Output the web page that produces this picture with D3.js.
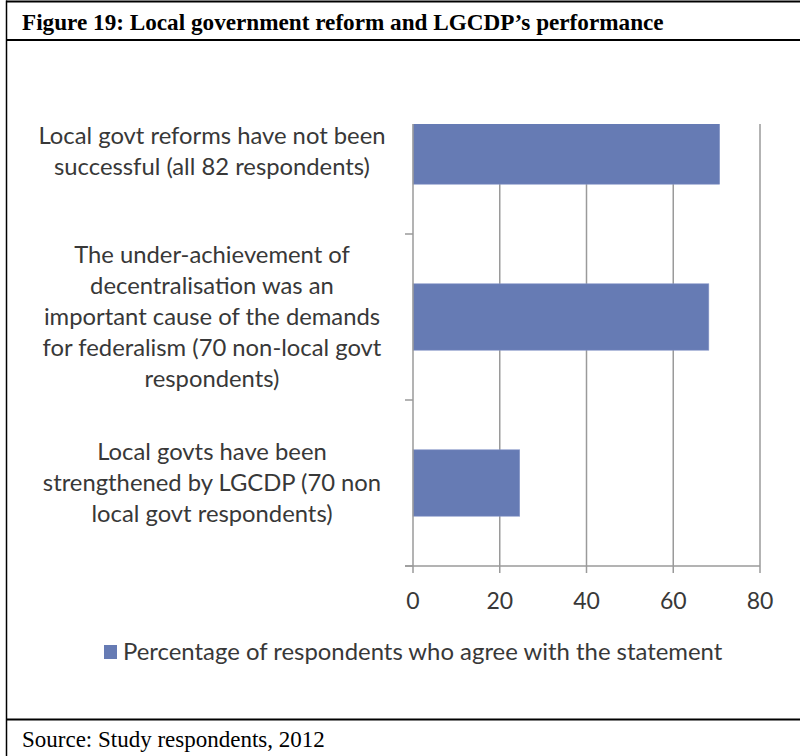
<!DOCTYPE html>
<html>
<head>
<meta charset="utf-8">
<script src="https://cdn.jsdelivr.net/npm/d3@7"></script>
<style>
  html, body { margin: 0; padding: 0; background: #fff; }
  svg { display: block; }
</style>
</head>
<body>
<svg id="chart" width="800" height="756"></svg>
<script>
const title = "Figure 19: Local government reform and LGCDP\u2019s performance";
const source = "Source: Study respondents, 2012";
const categories = [
  ["Local govt reforms  have not been", "successful (all 82 respondents)"],
  ["The under-achievement of", "decentralisation was an", "important cause of the demands", "for federalism  (70 non-local govt", "respondents)"],
  ["Local govts have been", "strengthened  by LGCDP (70 non", "local govt respondents)"]
];
const values = [70.7, 68.2, 24.6];
const xTicks = [0, 20, 40, 60, 80];
const seriesName = "Percentage of respondents who agree with the statement";

const svg = d3.select("#chart");
const barColor = "#667bb4";
const gridColor = "#9a9a9a";
const textColor = "#383838";
const labelFont = "Lato, 'Open Sans', sans-serif";

// Frame
svg.append("line").attr("x1", 6).attr("x2", 800).attr("y1", 1.5).attr("y2", 1.5).attr("stroke", "#000").attr("stroke-width", 2);
svg.append("line").attr("x1", 6.5).attr("x2", 6.5).attr("y1", 0.5).attr("y2", 756).attr("stroke", "#000").attr("stroke-width", 1.5);
svg.append("line").attr("x1", 6).attr("x2", 800).attr("y1", 40).attr("y2", 40).attr("stroke", "#000").attr("stroke-width", 2);
svg.append("line").attr("x1", 6).attr("x2", 800).attr("y1", 719.5).attr("y2", 719.5).attr("stroke", "#000").attr("stroke-width", 2);

svg.append("text").attr("x", 22).attr("y", 30)
  .attr("font-family", "'Liberation Serif', 'Times New Roman', serif")
  .attr("font-weight", "bold").attr("font-size", 23.2).attr("fill", "#000")
  .text(title);
svg.append("text").attr("x", 22).attr("y", 747)
  .attr("font-family", "'Liberation Serif', 'Times New Roman', serif")
  .attr("font-size", 23).attr("fill", "#000")
  .text(source);

// Scales
const x = d3.scaleLinear().domain([0, 80]).range([413, 760]);
const y = d3.scaleBand().domain(d3.range(categories.length)).range([68, 566]).paddingInner(0.6).paddingOuter(0.3);
const clipTop = 124, plotBottom = 566;

svg.append("clipPath").attr("id", "plotclip").append("rect")
  .attr("x", 400).attr("y", clipTop).attr("width", 400).attr("height", plotBottom - clipTop);

// Gridlines
svg.append("g").selectAll("line").data(xTicks.slice(1)).join("line")
  .attr("x1", d => x(d)).attr("x2", d => x(d))
  .attr("y1", clipTop).attr("y2", plotBottom)
  .attr("stroke", gridColor).attr("stroke-width", 1.5);

// Bars
svg.append("g").attr("clip-path", "url(#plotclip)").selectAll("rect").data(values).join("rect")
  .attr("x", x(0)).attr("y", (d, i) => y(i))
  .attr("width", d => x(d) - x(0)).attr("height", y.bandwidth())
  .attr("fill", barColor).attr("stroke", "#8797c8").attr("stroke-width", 0.6);

// Y axis line and ticks (category boundaries)
svg.append("line").attr("x1", x(0)).attr("x2", x(0)).attr("y1", clipTop).attr("y2", plotBottom)
  .attr("stroke", gridColor).attr("stroke-width", 1.5);
const boundaries = d3.range(1, categories.length + 1).map(i => i < categories.length ? y(i) - y.step() * y.paddingInner() / 2 : plotBottom);
svg.append("g").selectAll("line").data(boundaries).join("line")
  .attr("x1", x(0) - 8).attr("x2", x(0)).attr("y1", d => d).attr("y2", d => d)
  .attr("stroke", gridColor).attr("stroke-width", 1.5);

// X axis line and ticks
svg.append("line").attr("x1", x(0) - 8).attr("x2", x(80)).attr("y1", plotBottom).attr("y2", plotBottom)
  .attr("stroke", gridColor).attr("stroke-width", 1.5);
svg.append("g").selectAll("line").data(xTicks).join("line")
  .attr("x1", d => x(d)).attr("x2", d => x(d)).attr("y1", plotBottom).attr("y2", plotBottom + 7)
  .attr("stroke", gridColor).attr("stroke-width", 1.5);
svg.append("g").selectAll("text").data(xTicks).join("text")
  .attr("x", d => x(d)).attr("y", 609).attr("text-anchor", "middle")
  .attr("font-family", labelFont).attr("font-size", 23).attr("fill", textColor)
  .text(d => d);

// Category labels
const lineH = 31;
categories.forEach((lines, i) => {
  const cy = y(i) + y.bandwidth() / 2;
  const t = svg.append("text").attr("text-anchor", "middle")
    .attr("font-family", labelFont).attr("font-size", 23.8).attr("fill", textColor);
  lines.forEach((ln, j) => {
    t.append("tspan").attr("x", 212)
      .attr("y", cy + (j - (lines.length - 1) / 2) * lineH + 8)
      .text(ln);
  });
});

// Legend
svg.append("rect").attr("x", 104).attr("y", 645).attr("width", 13).attr("height", 14).attr("fill", barColor);
svg.append("text").attr("x", 123).attr("y", 660)
  .attr("font-family", labelFont).attr("font-size", 23.9).attr("fill", textColor)
  .text(seriesName);
</script>
</body>
</html>
